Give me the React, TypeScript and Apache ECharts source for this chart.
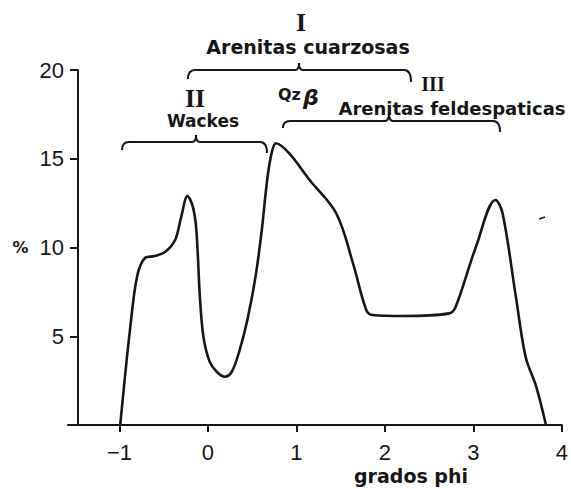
import React, { useEffect, useRef } from "react";
import * as echarts from "echarts";

// grain size (phi) and frequency (%)
const phi = [
  -0.99, -0.94, -0.88, -0.8, -0.71, -0.6, -0.48, -0.37, -0.3, -0.23, -0.17, -0.13, -0.09,
  -0.05, 0.02, 0.1, 0.19, 0.27, 0.36, 0.45, 0.54, 0.61, 0.67, 0.72, 0.77, 0.92, 1.15, 1.45, 1.64,
  1.79, 1.86, 2.2, 2.73, 2.8, 3.03, 3.25, 3.33, 3.48, 3.59, 3.71, 3.82,
];
const pct = [
  0, 2.54, 5.35, 8.35, 9.41, 9.52, 9.76, 10.42, 11.74, 12.9, 12.3, 11.0, 7.23,
  4.97, 3.57, 3.0, 2.72, 3.0, 4.23, 6.0, 8.4, 11.0, 13.8, 15.3, 15.87, 15.3, 13.8, 11.93, 9.11,
  6.48, 6.2, 6.14, 6.29, 6.66, 10.05, 12.68, 11.93, 7.23, 3.85, 2.16, 0,
];
const xTicks = [-1, 0, 1, 2, 3, 4];
const yTicks = [5, 10, 15, 20];

const xName = "grados phi";
const groupI = "I";
const groupINames = "Arenitas cuarzosas";
const groupII = "II";
const groupIINames = "Wackes";
const groupIII = "III";
const groupIIINames = "Arenitas feldespaticas";

function bracePath(x1: number, x2: number, xm: number, y: number, h1: number, h2: number, t: number) {
  const r = 7;
  const c = 4;
  return (
    `M${x1} ${y + h1} Q${x1} ${y} ${x1 + r} ${y} L${xm - c} ${y} Q${xm} ${y} ${xm} ${y - t} ` +
    `M${xm} ${y - t} Q${xm} ${y} ${xm + c} ${y} L${x2 - r} ${y} Q${x2} ${y} ${x2} ${y + h2}`
  );
}

echarts.graphic.registerShape("braceI", echarts.graphic.extendPath(bracePath(188, 411, 299, 70, 9, 12, 7), {}));
echarts.graphic.registerShape("braceII", echarts.graphic.extendPath(bracePath(122, 267, 196, 142, 8, 11, 7), {}));
echarts.graphic.registerShape("braceIII", echarts.graphic.extendPath(bracePath(283, 500, 389, 121, 7, 11, 8), {}));

const INK = "#161616";
const SANS = "'DejaVu Sans', sans-serif";
const SERIF = "'Liberation Serif', 'DejaVu Serif', serif";

export default function App() {
  const ref = useRef<HTMLDivElement>(null);
  useEffect(() => {
    if (!ref.current) return;
    const chart = echarts.init(ref.current, undefined, { renderer: "svg" });
    const braceStyle = { stroke: INK, fill: "none", lineWidth: 2 };
    const textStyle = (text: string, x: number, y: number, size: number, family = SANS) => ({
      type: "text",
      x,
      y,
      style: {
        text,
        fill: INK,
        font: `bold ${size}px ${family}`,
        textAlign: "center",
        textVerticalAlign: "middle",
      },
    });
    chart.setOption({
      animation: false,
      backgroundColor: "#ffffff",
      grid: { left: 68, right: 8, top: 70, bottom: 64 },
      xAxis: {
        type: "value",
        min: -1.58,
        max: 4,
        splitLine: { show: false },
        axisLine: { onZero: false, lineStyle: { color: INK, width: 2 } },
        axisTick: { customValues: xTicks, length: 7, lineStyle: { color: INK, width: 2 } },
        axisLabel: {
          customValues: xTicks,
          margin: 16,
          fontSize: 22,
          color: INK,
          fontFamily: "'Liberation Sans', sans-serif",
          formatter: (v: number) => (v < 0 ? "\u2212" + Math.abs(v) : String(v)),
        },
      },
      yAxis: {
        type: "value",
        min: 0,
        max: 20,
        interval: 5,
        offset: -10,
        splitLine: { show: false },
        axisLine: { show: true, onZero: false, lineStyle: { color: INK, width: 2 } },
        axisTick: { show: true, customValues: yTicks, length: 8, lineStyle: { color: INK, width: 2 } },
        axisLabel: {
          customValues: yTicks,
          margin: 14,
          fontSize: 22,
          color: INK,
          fontFamily: "'Liberation Sans', sans-serif",
          formatter: (v: number) => (v === 10 ? "{p|%} 10" : String(v)),
          rich: {
            p: {
              fontSize: 16,
              fontWeight: "bold",
              color: INK,
              fontFamily: "'DejaVu Sans', sans-serif",
              padding: [0, 5, 0, 0],
            },
          },
        },
      },
      series: [
        {
          type: "line",
          data: phi.map((x, i) => [x, pct[i]]),
          showSymbol: false,
          smooth: 0.35,
          lineStyle: { color: INK, width: 2.6 },
        },
      ],
      graphic: [
        { type: "braceI", x: 0, y: 0, style: braceStyle },
        { type: "braceII", x: 0, y: 0, style: braceStyle },
        { type: "braceIII", x: 0, y: 0, style: braceStyle },
        textStyle(groupI, 301, 22, 26, SERIF),
        textStyle(groupINames, 308, 47, 19),
        textStyle(groupII, 195, 98, 26, SERIF),
        textStyle(groupIINames, 203, 121, 17),
        textStyle(groupIII, 433, 84, 20, SERIF),
        textStyle(groupIIINames, 452, 108, 18),
        textStyle(xName, 411, 476, 19),
        {
          type: "text",
          x: 278,
          y: 97,
          style: {
            text: "{a|Qz}{b|\u03b2}",
            textVerticalAlign: "middle",
            rich: {
              a: { fontSize: 16, fontWeight: "bold", fontFamily: SANS, fill: INK, verticalAlign: "top" },
              b: {
                fontSize: 22,
                fontWeight: "bold",
                fontStyle: "italic",
                fontFamily: SANS,
                fill: INK,
                verticalAlign: "bottom",
                padding: [0, 0, 0, 2],
              },
            },
          },
        },
        { type: "line", shape: { x1: 539, y1: 219, x2: 545, y2: 217 }, style: { stroke: INK, lineWidth: 1.5 } },
      ],
    });
    return () => chart.dispose();
  }, []);
  return (
    <div
      ref={ref}
      style={{ position: "absolute", left: 0, top: 0, width: 571, height: 489 }}
    />
  );
}
